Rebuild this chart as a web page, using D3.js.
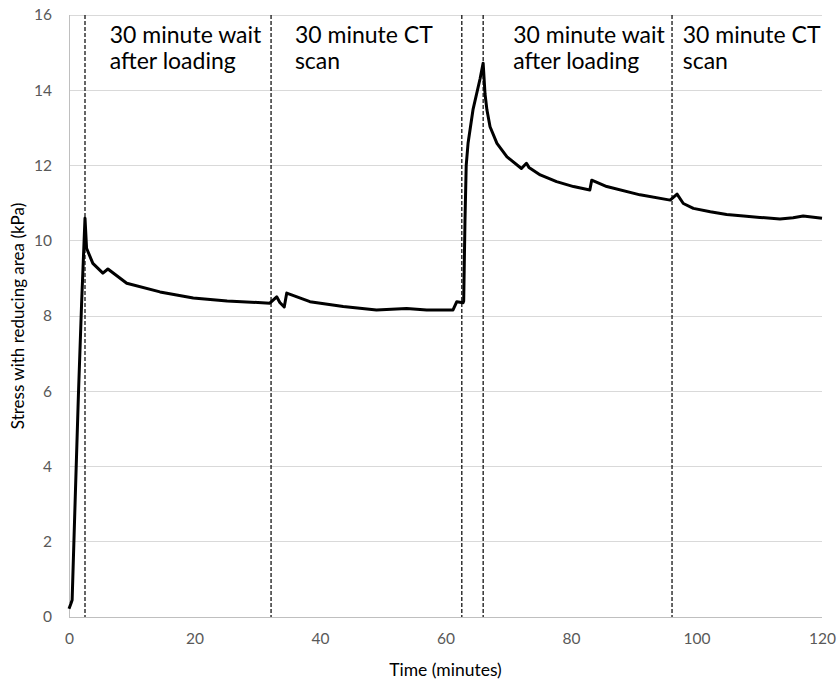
<!DOCTYPE html>
<html lang="en">
<head>
<meta charset="UTF-8">
<title>Stress with reducing area</title>
<script src="https://cdn.jsdelivr.net/npm/d3@7"></script>
<style>
body{margin:0;background:#fff;}
svg text{font-family:Lato,"Open Sans",sans-serif;}
</style>
</head>
<body>
<div id="chart"></div>
<script>
// data: time (minutes), stress (kPa)
var time=[0,0.3,0.5,1.0,1.5,2.0,2.55,2.8,3.8,5.4,6.2,9.2,14.5,19.8,25.2,32.0,
	33.1,33.6,34.3,34.7,38.4,43.7,49.0,53.8,57.0,61.2,61.8,62.8,62.9,63.1,63.3,63.6,64.4,65.5,66.0,
	66.3,66.6,67.1,68.2,69.8,72.1,72.9,73.3,75.1,77.7,80.4,83.0,83.3,85.7,91.0,95.8,
	96.9,97.9,99.5,102.2,104.8,107.5,110.1,113.3,115.4,117.0,120]
var stress=[0.22,0.35,0.45,3.2,5.9,8.3,10.6,9.8,9.4,9.14,9.25,8.87,8.64,8.48,8.40,8.34,
	8.51,8.36,8.24,8.61,8.38,8.25,8.16,8.2,8.16,8.16,8.38,8.35,8.4,10.5,12.0,12.6,13.5,14.3,14.72,
	13.9,13.48,13.03,12.59,12.23,11.92,12.06,11.95,11.75,11.57,11.44,11.35,11.61,11.44,11.22,11.08,
	11.24,10.99,10.86,10.77,10.70,10.66,10.62,10.58,10.61,10.66,10.6]
var phaseLines=[2.55,32.2,62.6,66.0,96.1]
var notes=[{t:6.5,lines:['30 minute wait','after loading']},
	{t:36.0,lines:['30 minute CT','scan']},
	{t:70.8,lines:['30 minute wait','after loading']},
	{t:97.8,lines:['30 minute CT','scan']}]
var xTicks=[0,20,40,60,80,100,120]
var yTicks=[0,2,4,6,8,10,12,14,16]

var W=838,H=681
var margin={top:15,right:16,bottom:64,left:69}
var w=W-margin.left-margin.right, h=H-margin.top-margin.bottom

var svg=d3.select('#chart').append('svg').attr('width',W).attr('height',H)
var g=svg.append('g').attr('transform','translate('+margin.left+','+margin.top+')')

var x=d3.scaleLinear().domain([0,120]).range([0,w])
var y=d3.scaleLinear().domain([0,16]).range([h,0])

// grid
g.selectAll('.grid').data(yTicks).enter().append('line')
	.attr('x1',0).attr('x2',w)
	.attr('y1',function(d){return y(d)}).attr('y2',function(d){return y(d)})
	.attr('stroke','#d9d9d9').attr('stroke-width',1).attr('shape-rendering','crispEdges')
g.append('line').attr('x1',0).attr('x2',0).attr('y1',0).attr('y2',h)
	.attr('stroke','#bfbfbf').attr('shape-rendering','crispEdges')
g.append('line').attr('x1',0).attr('x2',w).attr('y1',h).attr('y2',h)
	.attr('stroke','#bfbfbf').attr('shape-rendering','crispEdges')

// axes
var xa=g.append('g').attr('transform','translate(0,'+h+')')
	.call(d3.axisBottom(x).tickValues(xTicks).tickSize(0).tickPadding(16))
var ya=g.append('g')
	.call(d3.axisLeft(y).tickValues(yTicks).tickSize(0).tickPadding(17))
svg.selectAll('.domain').remove()
svg.selectAll('.tick text').attr('fill','#595959').style('font-size','15.5px')

// phase lines
g.selectAll('.phase').data(phaseLines).enter().append('line')
	.attr('x1',function(d){return x(d)}).attr('x2',function(d){return x(d)})
	.attr('y1',0).attr('y2',h)
	.attr('stroke','#000').attr('stroke-width',1.2).attr('stroke-dasharray','4,2')

// curve
var data=time.map(function(t,i){return {t:t,s:stress[i]}})
var line=d3.line().x(function(d){return x(d.t)}).y(function(d){return y(d.s)})
g.append('path').datum(data)
	.attr('fill','none').attr('stroke','#000').attr('stroke-width',3)
	.attr('stroke-linejoin','round').attr('d',line)

// annotations
notes.forEach(function(n){
	var tx=g.append('text').attr('x',x(n.t)).attr('y',28)
		.style('font-size','23px').attr('fill','#000')
	n.lines.forEach(function(l,i){
		tx.append('tspan').attr('x',x(n.t)).attr('dy',i==0?0:26).text(l)
	})
})

// axis titles
svg.append('text').attr('x',margin.left+w/2).attr('y',676)
	.attr('text-anchor','middle').style('font-size','17.5px').attr('fill','#000')
	.text('Time (minutes)')
svg.append('text').attr('transform','translate(24,'+(margin.top+h/2)+') rotate(-90)')
	.attr('text-anchor','middle').style('font-size','17px').attr('fill','#000')
	.text('Stress with reducing area (kPa)')
</script>
</body>
</html>
